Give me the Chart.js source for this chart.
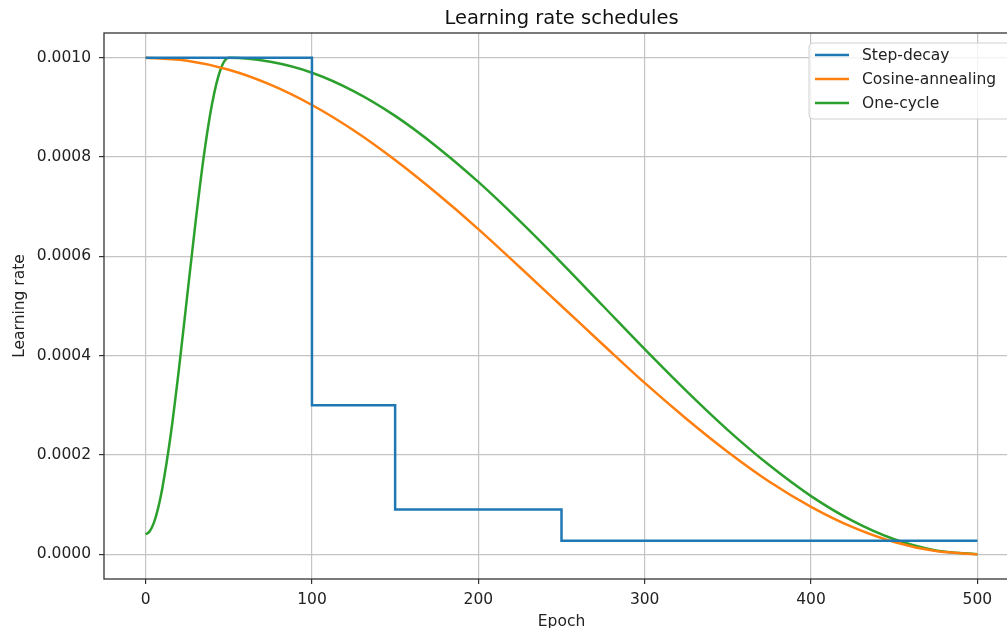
<!DOCTYPE html>
<html>
<head>
<meta charset="utf-8">
<script src="https://cdn.jsdelivr.net/npm/chart.js@4.4.1/dist/chart.umd.min.js"></script>
<style>
  html, body { margin: 0; padding: 0; background: #fff; overflow: hidden; }
  #wrap { width: 1030px; height: 628px; }
</style>
</head>
<body>
<div id="wrap"><canvas id="myChart" width="1030" height="628"></canvas></div>
<script>
// tick values
const xTicks = [0, 100, 200, 300, 400, 500];
const yTicks = [0, 0.0002, 0.0004, 0.0006, 0.0008, 0.0010];

// Step-decay (lr holds until next epoch)
const stepEpochs = [0, 100, 150, 250, 500];
const stepLr = [0.001, 0.0003, 0.00009, 0.000027, 0.000027];

// Cosine-annealing
const cosEpochs = [0, 25, 50, 75, 100, 125, 150, 175, 200, 225, 250, 275, 300, 325, 350, 375, 400, 425, 450, 475, 500];
const cosLr = [0.001, 0.000994, 0.000976, 0.000946, 0.000905, 0.000854, 0.000794, 0.000727, 0.000655, 0.000578,
  0.0005, 0.000422, 0.000345, 0.000273, 0.000206, 0.000146, 0.0000955, 0.0000545, 0.0000245, 0.0000062, 0];

// One-cycle
const oneEpochs = [0, 2.5, 5, 7.5, 10, 15, 20, 25, 30, 35, 40, 45, 50, 75, 100, 125, 150, 175, 200, 225, 250, 275, 300, 325, 350, 375, 400, 425, 450, 475, 500];
const oneLr = [0.00004, 0.000046, 0.0000635, 0.0000923, 0.000132, 0.000238, 0.000372, 0.00052, 0.000668, 0.000802, 0.000908, 0.000976, 0.001,
  0.000992, 0.00097, 0.000933, 0.000883, 0.000821, 0.00075, 0.000671, 0.000587, 0.0005, 0.000413, 0.000329, 0.00025,
  0.000179, 0.000117, 0.000067, 0.00003, 0.0000076, 0];

function pts(xs, ys) {
    return xs.map(function (x, i) { return { x: x, y: ys[i] }; });
}

const FONT = "'DejaVu Sans', sans-serif";
const FS = 15.5;

// frame, title and legend drawn the matplotlib way
const mplPlugin = {
    id: 'mpl',
    afterDraw: function (chart) {
        const ctx = chart.ctx;
        const a = chart.chartArea;
        ctx.save();
        // spines
        ctx.strokeStyle = '#333';
        ctx.lineWidth = 1.3;
        ctx.strokeRect(a.left, a.top, a.right - a.left, a.bottom - a.top);

        // title
        ctx.fillStyle = '#111';
        ctx.font = '19.5px ' + FONT;
        ctx.textAlign = 'center';
        ctx.textBaseline = 'middle';
        ctx.fillText('Learning rate schedules', (a.left + a.right) / 2, 18.5);

        // legend
        const bx = a.right - 210, by = a.top + 10, bw = 203, bh = 76;
        ctx.beginPath();
        ctx.roundRect(bx, by, bw, bh, 4);
        ctx.fillStyle = 'rgba(255,255,255,0.8)';
        ctx.fill();
        ctx.strokeStyle = '#d0d0d0';
        ctx.lineWidth = 1;
        ctx.stroke();
        ctx.font = FS + 'px ' + FONT;
        ctx.textAlign = 'left';
        chart.data.datasets.forEach(function (ds, i) {
            const y = by + 12 + 24 * i;
            ctx.strokeStyle = ds.borderColor;
            ctx.lineWidth = 2.5;
            ctx.beginPath();
            ctx.moveTo(bx + 6, y);
            ctx.lineTo(bx + 40, y);
            ctx.stroke();
            ctx.fillStyle = '#222';
            ctx.fillText(ds.label, bx + 53, y + 1);
        });
        ctx.restore();
    }
};

new Chart(document.getElementById('myChart'), {
    type: 'line',
    data: {
        datasets: [
            {
                label: 'Step-decay',
                data: pts(stepEpochs, stepLr),
                borderColor: '#1f77b4',
                borderWidth: 2.5,
                stepped: 'before',
                pointRadius: 0
            },
            {
                label: 'Cosine-annealing',
                data: pts(cosEpochs, cosLr),
                borderColor: '#ff7f0e',
                borderWidth: 2.5,
                cubicInterpolationMode: 'monotone',
                pointRadius: 0
            },
            {
                label: 'One-cycle',
                data: pts(oneEpochs, oneLr),
                borderColor: '#2ca02c',
                borderWidth: 2.5,
                cubicInterpolationMode: 'monotone',
                pointRadius: 0
            }
        ]
    },
    options: {
        responsive: false,
        animation: false,
        layout: { padding: { left: 0, top: 33, right: 11, bottom: 0 } },
        plugins: {
            legend: { display: false },
            title: { display: false },
            tooltip: { enabled: false }
        },
        scales: {
            x: {
                type: 'linear',
                min: -25,
                max: 525,
                afterBuildTicks: function (scale) {
                    scale.ticks = xTicks.map(function (v) { return { value: v }; });
                },
                afterFit: function (scale) { scale.height = 49; },
                grid: { color: '#c4c4c4', lineWidth: 1.2, tickColor: '#333', tickLength: 5, drawTicks: true },
                border: { display: false },
                ticks: { color: '#222', font: { family: FONT, size: FS }, padding: 7, maxRotation: 0 },
                title: { display: true, text: 'Epoch', color: '#222', font: { family: FONT, size: FS }, padding: { top: 0, bottom: -3 } }
            },
            y: {
                type: 'linear',
                min: -0.00005,
                max: 0.00105,
                afterBuildTicks: function (scale) {
                    scale.ticks = yTicks.map(function (v) { return { value: v }; });
                },
                afterFit: function (scale) { scale.width = 104; },
                grid: { color: '#c4c4c4', lineWidth: 1.2, tickColor: '#333', tickLength: 5, drawTicks: true },
                border: { display: false },
                ticks: {
                    color: '#222',
                    font: { family: FONT, size: FS },
                    padding: 8,
                    callback: function (v) { return v.toFixed(4); }
                },
                title: { display: true, text: 'Learning rate', color: '#222', font: { family: FONT, size: FS }, padding: { top: 11, bottom: 0 } }
            }
        }
    },
    plugins: [mplPlugin]
});
</script>
</body>
</html>
